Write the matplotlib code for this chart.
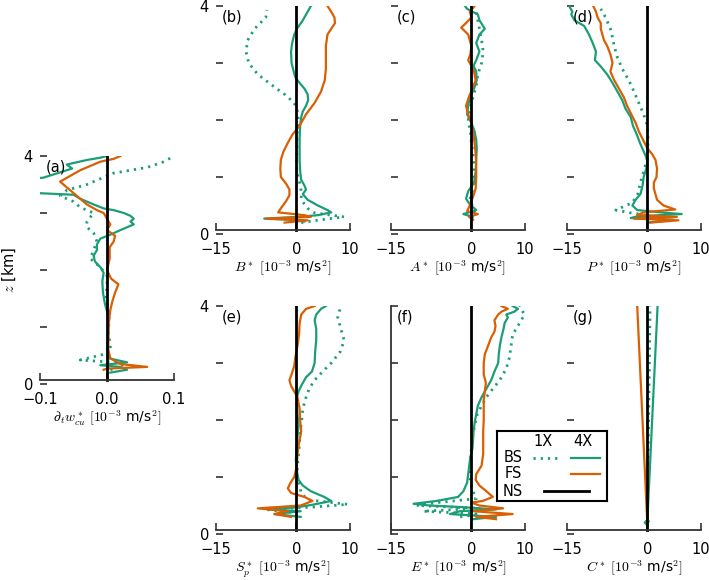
import numpy as np
import matplotlib
matplotlib.use('Agg')
import matplotlib.pyplot as plt

plt.rcParams['mathtext.fontset'] = 'cm'
plt.rcParams['font.family'] = 'DejaVu Sans'
plt.rcParams['font.size'] = 10

GREEN = '#1b9e77'
ORANGE = '#d95f02'
SPINE = '#333333'

# ---------------- data (z in km, values in 1e-3 m/s^2) ----------------
# (a) d_t w*_cu
z_a_bs4 = [0.2, 0.25, 0.3, 0.33, 0.38, 0.45, 0.6, 0.8, 1.0, 1.2, 1.4, 1.6, 1.8, 1.95, 2.05, 2.15, 2.25, 2.35,
           2.45, 2.55, 2.62, 2.7, 2.8, 2.85, 2.9, 2.95, 3.0, 3.05, 3.08, 3.15, 3.25, 3.32, 3.35, 3.4, 3.58,
           3.62, 3.78, 3.85, 3.93, 3.97, 4.0]
a_bs4 = [0.005, 0.03, 0.02, -0.01, 0.03, 0.003, 0.0, 0.002, 0.002, 0.002, -0.003, -0.006, -0.007, -0.005,
         -0.01, -0.018, -0.02, -0.015, -0.015, -0.01, 0.005, 0.02, 0.04, 0.035, 0.04, 0.035, 0.025, 0.01,
         -0.005, -0.02, -0.04, -0.05, -0.105, -0.13, -0.13, -0.095, -0.052, -0.06, -0.03, -0.01, 0.0]
z_a_fs4 = [0.25, 0.27, 0.3, 0.35, 0.45, 0.6, 0.9, 1.1, 1.3, 1.45, 1.6, 1.75, 1.85, 2.0, 2.2, 2.4, 2.5, 2.6,
           2.7, 2.8, 2.9, 3.0, 3.05, 3.15, 3.25, 3.35, 3.45, 3.55, 3.65, 3.75, 3.8, 3.9, 3.95, 4.0]
a_fs4 = [-0.005, 0.0, 0.06, 0.02, 0.005, 0.002, 0.002, 0.003, 0.005, 0.008, 0.012, 0.017, 0.006, 0.0,
         0.004, 0.004, 0.01, 0.012, 0.0, 0.005, 0.0, -0.005, -0.015, -0.03, -0.04, -0.05, -0.06, -0.07,
         -0.055, -0.04, -0.03, -0.01, 0.01, 0.02]
z_a_bs1 = [0.25, 0.3, 0.33, 0.38, 0.42, 0.55, 0.7, 0.9, 1.1, 1.3, 1.5, 1.7, 1.9, 2.05, 2.2, 2.35, 2.5, 2.65,
           2.75, 2.85, 3.0, 3.1, 3.2, 3.3, 3.4, 3.5, 3.6, 3.7, 3.8, 3.9, 4.0]
a_bs1 = [0.005, 0.02, 0.025, 0.01, -0.04, 0.005, 0.005, 0.002, 0.003, 0.003, -0.002, 0.0, 0.0, -0.01,
         -0.025, -0.02, -0.015, -0.02, -0.03, -0.03, -0.02, -0.04, -0.05, -0.07, -0.06, -0.03, -0.01,
         0.01, 0.06, 0.085, 0.1]

# (b) B*
z_b_bs4 = [0.22, 0.25, 0.27, 0.3, 0.33, 0.38, 0.42, 0.5, 0.6, 0.7, 0.78, 0.85, 0.95, 1.1, 1.3, 1.5, 1.7,
           1.9, 2.05, 2.15, 2.25, 2.35, 2.45, 2.55, 2.65, 2.75, 2.85, 3.0, 3.2, 3.35, 3.5, 3.6, 3.75, 3.9, 4.0]
b_bs4 = [1.5, -1, -6, 0.2, 4, 6.5, 5.8, 4.0, 2.1, 1.2, 1.8, 1.5, 0.9, 0.7, 0.6, 0.6, 0.6, 0.7, 0.9, 1.2,
         1.8, 2.2, 2.1, 1.5, 0.6, -0.2, -0.5, -0.9, -1.0, -0.8, -0.4, 0.1, 1.2, 2.1, 2.7]
z_b_fs4 = [0.2, 0.24, 0.27, 0.3, 0.33, 0.38, 0.45, 0.58, 0.68, 0.78, 0.88, 1.0, 1.15, 1.3, 1.45, 1.6, 1.75,
           1.9, 2.1, 2.3, 2.5, 2.7, 2.9, 3.1, 3.3, 3.5, 3.6, 3.7, 3.8, 3.9, 4.0]
b_fs4 = [-2.2, 2.1, -5.7, 2.7, 1.5, -3.4, -2.9, -1.9, -1.3, -1.3, -1.9, -2.9, -3.0, -2.9, -2.4, -1.6, -0.7,
         0.6, 1.8, 3.4, 4.6, 5.3, 5.5, 5.5, 5.5, 5.8, 6.5, 7.2, 7.1, 6.5, 5.8]
z_b_bs1 = [0.2, 0.25, 0.3, 0.37, 0.45, 0.6, 0.75, 0.9, 1.1, 1.3, 1.5, 1.7, 1.9, 2.1, 2.3, 2.45, 2.6, 2.8,
           3.0, 3.2, 3.4, 3.6, 3.8, 3.93]
b_bs1 = [0.9, 4.6, 8.9, 3.4, 2.1, 0.9, 0.9, 0.6, 0.1, 0.0, 0.1, 0.1, 0.2, 0.4, -0.4, -2.2, -4.4, -7.2,
         -8.9, -9.4, -9.1, -7.8, -5.7, -5.5]

# (c) A*
z_c_bs4 = [0.25, 0.3, 0.35, 0.42, 0.52, 0.62, 0.75, 0.9, 1.1, 1.3, 1.5, 1.65, 1.8, 1.95, 2.1, 2.25, 2.4,
           2.55, 2.7, 2.85, 2.95, 3.05, 3.2, 3.35, 3.5, 3.6, 3.75, 3.85, 3.95, 4.0]
c_bs4 = [0.0, 0.3, -1.5, 0.9, -0.3, -1.0, -0.6, 0.5, 0.8, 0.9, 1.0, 0.9, 0.6, 0.0, -0.8, -0.6, -0.3, 0.5,
         1.0, 0.9, 0.4, 0.9, 1.5, 0.9, 1.5, 2.5, 1.5, 1.2, -0.8, -1.2]
z_c_fs4 = [0.25, 0.3, 0.35, 0.4, 0.5, 0.65, 0.8, 1.0, 1.2, 1.4, 1.6, 1.8, 1.95, 2.1, 2.25, 2.42, 2.55, 2.7,
           2.85, 2.95, 3.05, 3.15, 3.3, 3.5, 3.62, 3.72, 3.8, 3.9, 4.0]
c_fs4 = [0.3, -0.4, 1.2, -0.8, -0.3, 0.3, 0.8, 0.9, 0.9, 0.8, 0.6, 0.3, 0.0, -0.6, -1.0, -0.4, 0.2, 0.8,
         0.5, 0.0, -0.6, -0.2, 0.0, -0.6, -1.9, -0.8, 0.0, -0.3, 0.6]
z_c_bs1 = [0.3, 0.4, 0.6, 0.8, 1.0, 1.2, 1.4, 1.6, 1.8, 2.0, 2.2, 2.4, 2.6, 2.8, 3.0, 3.2, 3.4, 3.6, 3.9]
c_bs1 = [-0.6, 0.6, -0.3, 0.3, 0.5, 0.5, 0.3, 0.0, -0.2, -0.6, -0.3, 0.3, 0.9, 1.2, 1.9, 2.2, 1.9, 1.5, 0.9]

# (d) P*
z_d_bs4 = [0.2, 0.25, 0.28, 0.31, 0.35, 0.38, 0.42, 0.5, 0.6, 0.7, 0.85, 1.0, 1.15, 1.3, 1.45, 1.6, 1.75,
           1.9, 2.05, 2.2, 2.35, 2.5, 2.65, 2.8, 2.95, 3.05, 3.2, 3.35, 3.5, 3.65, 3.75, 3.85, 3.9, 4.0]
d_bs4 = [0.0, 4.9, -3.1, -1.9, 6.4, 2.4, -1.9, -2.8, -2.2, -1.3, -0.9, -0.7, -0.2, 0.0, -0.7, -1.4, -2.0,
         -2.7, -3.1, -4.1, -4.7, -5.6, -6.5, -7.5, -8.8, -9.8, -9.6, -10.2, -10.9, -11.8, -13.6, -14.2,
         -14.0, -14.6]
z_d_fs4 = [0.2, 0.24, 0.27, 0.3, 0.33, 0.38, 0.43, 0.5, 0.6, 0.7, 0.8, 0.9, 1.0, 1.15, 1.3, 1.4, 1.5, 1.65,
           1.8, 1.95, 2.1, 2.25, 2.4, 2.55, 2.7, 2.85, 3.0, 3.15, 3.3, 3.4, 3.5, 3.6, 3.7, 3.8, 3.9, 4.0]
d_fs4 = [0.6, 5.8, -2.5, 5.5, -1.9, -0.7, 5.2, 3.0, 1.8, 1.5, 1.2, 1.2, 1.7, 1.8, 1.5, 0.9, 0.0, -0.8,
         -1.6, -2.2, -3.0, -3.8, -4.4, -5.3, -6.2, -6.9, -6.5, -6.9, -7.5, -8.1, -8.4, -8.7, -8.7, -9.3,
         -9.6, -10.1]
z_d_bs1 = [0.28, 0.32, 0.37, 0.42, 0.55, 0.7, 0.9, 1.1, 1.3, 1.5, 1.7, 1.9, 2.1, 2.3, 2.5, 2.7, 2.9, 3.1,
           3.3, 3.45, 3.6, 3.8, 3.95]
d_bs1 = [-2.5, 0.6, -3.1, -5.9, -2.8, -1.8, -1.3, -0.7, -0.1, 0.1, 0.1, 0.0, -0.7, -1.6, -2.5, -3.5, -4.7,
         -5.6, -6.2, -6.5, -6.9, -7.8, -8.7]

# (e) S_p*
z_e_bs4 = [0.3, 0.35, 0.4, 0.43, 0.47, 0.52, 0.58, 0.65, 0.75, 0.85, 0.95, 1.1, 1.3, 1.5, 1.7, 1.9, 2.1,
           2.3, 2.4, 2.5, 2.6, 2.75, 2.85, 3.0, 3.2, 3.4, 3.6, 3.75, 3.85, 3.95, 4.0]
e_bs4 = [0.8, -4.1, 0.8, -5.3, 0.2, 3.4, 6.5, 5.2, 2.7, 1.2, 0.4, 0.1, -0.1, 0.0, 0.2, 0.4, 0.2, 0.1, 0.1,
         0.4, 0.9, 1.8, 2.9, 3.4, 3.5, 3.7, 3.7, 3.4, 3.7, 4.6, 5.5]
z_e_fs4 = [0.3, 0.35, 0.4, 0.45, 0.5, 0.58, 0.65, 0.72, 0.8, 0.9, 1.0, 1.2, 1.4, 1.6, 1.8, 2.0, 2.2, 2.4,
           2.5, 2.6, 2.7, 2.8, 2.95, 3.1, 3.3, 3.5, 3.7, 3.85, 3.95, 4.0]
e_fs4 = [-1.0, -4.1, -1.6, -7.2, 0.8, 3.0, 1.5, -1.0, -1.6, -1.1, -0.4, 0.1, 0.2, 0.5, 0.9, 0.7, 0.6, 0.2,
         -0.4, -1.0, -1.3, -0.9, -0.4, -0.2, 0.2, 0.5, 0.6, 0.9, 1.8, 3.4]
z_e_bs1 = [0.38, 0.43, 0.47, 0.52, 0.6, 0.72, 0.85, 1.0, 1.2, 1.4, 1.6, 1.8, 2.0, 2.2, 2.4, 2.55, 2.7,
           2.85, 3.0, 3.2, 3.4, 3.6, 3.8, 4.0]
e_bs1 = [-1.0, -5.7, 2.7, 9.6, 2.1, 0.9, 0.6, 0.1, 0.2, 0.4, 0.6, 0.7, 1.0, 1.2, 1.8, 2.4, 3.4, 4.9, 6.5,
         8.2, 8.9, 8.3, 7.7, 8.3]

# (f) E*
z_f_bs4 = [0.26, 0.3, 0.35, 0.4, 0.43, 0.47, 0.5, 0.53, 0.58, 0.65, 0.75, 0.9, 1.05, 1.2, 1.35, 1.5, 1.65,
           1.8, 1.95, 2.1, 2.25, 2.4, 2.55, 2.7, 2.85, 3.0, 3.15, 3.3, 3.45, 3.6, 3.7, 3.8, 3.85, 3.9, 3.95, 4.0]
f_bs4 = [0.3, 4.6, -4.0, -2.1, 4.6, -1.5, -7.8, -10.8, -6.5, -2.5, -1.5, -0.8, -0.6, -0.4, -0.2, 0.2, 0.3,
         0.4, 0.6, 0.9, 1.2, 1.9, 2.8, 3.7, 4.3, 5.0, 5.1, 5.3, 5.6, 6.0, 6.2, 6.8, 6.5, 8.0, 8.7, 7.7]
z_f_fs4 = [0.26, 0.3, 0.35, 0.4, 0.45, 0.5, 0.55, 0.58, 0.65, 0.75, 0.85, 0.95, 1.05, 1.2, 1.4, 1.6, 1.8,
           2.0, 2.2, 2.35, 2.5, 2.65, 2.8, 3.0, 3.15, 3.3, 3.45, 3.55, 3.65, 3.75, 3.85, 3.9, 3.95, 4.0]
f_fs4 = [4.6, 0.9, 7.7, 0.3, 5.9, 1.5, 0.0, 2.1, 4.0, 2.8, 1.5, 0.8, 0.9, 1.9, 2.2, 2.2, 2.2, 2.3, 2.3,
         2.3, 2.5, 2.7, 2.3, 2.3, 2.5, 3.1, 3.7, 4.3, 4.5, 4.3, 5.0, 5.6, 6.8, 5.6]
z_f_bs1 = [0.3, 0.35, 0.4, 0.45, 0.5, 0.55, 0.62, 0.75, 0.9, 1.1, 1.3, 1.5, 1.7, 1.9, 2.1, 2.25, 2.4, 2.55,
           2.7, 2.9, 3.1, 3.3, 3.5, 3.7, 3.85, 4.0]
f_bs1 = [-2.1, 1.5, -9.0, 1.5, -10.2, -6.5, 0.9, 0.3, -0.2, -0.3, -0.2, 0.0, 0.2, 0.6, 1.1, 1.9, 2.8, 4.0,
         5.3, 6.5, 7.1, 7.4, 7.7, 9.0, 9.9, 9.0]

# (g) C*
z_g_bs4 = [0.15, 0.2, 0.25, 4.0]
g_bs4 = [0.0, -0.5, 0.0, 1.9]
z_g_fs4 = [0.15, 4.0]
g_fs4 = [0.0, -1.9]
z_g_bs1 = [0.2, 0.25, 4.0]
g_bs1 = [0.3, 0.0, 0.5]

# NS (no shear) reference
z_ns = [0.07, 4.0]
x_ns = [0.0, 0.0]

panel_letters = ['a', 'b', 'c', 'd', 'e', 'f', 'g']
xlabels = [r'$\partial_t w^*_{cu}\ [10^{-3}$ m/s$^2]$',
           r'$B^*\ [10^{-3}$ m/s$^2]$',
           r'$A^*\ [10^{-3}$ m/s$^2]$',
           r'$P^*\ [10^{-3}$ m/s$^2]$',
           r'$S^*_p\ [10^{-3}$ m/s$^2]$',
           r'$E^*\ [10^{-3}$ m/s$^2]$',
           r'$C^*\ [10^{-3}$ m/s$^2]$']
xticks_small = [-0.1, 0.0, 0.1]
xticklabels_small = ['\u22120.1', '0.0', '0.1']
xticks_big = [-15, 0, 10]
xticklabels_big = ['\u221215', '0', '10']
yticks = [0, 1, 2, 3, 4]

series = {
    'a': ((z_a_bs1, a_bs1), (z_a_bs4, a_bs4), (z_a_fs4, a_fs4)),
    'b': ((z_b_bs1, b_bs1), (z_b_bs4, b_bs4), (z_b_fs4, b_fs4)),
    'c': ((z_c_bs1, c_bs1), (z_c_bs4, c_bs4), (z_c_fs4, c_fs4)),
    'd': ((z_d_bs1, d_bs1), (z_d_bs4, d_bs4), (z_d_fs4, d_fs4)),
    'e': ((z_e_bs1, e_bs1), (z_e_bs4, e_bs4), (z_e_fs4, e_fs4)),
    'f': ((z_f_bs1, f_bs1), (z_f_bs4, f_bs4), (z_f_fs4, f_fs4)),
    'g': ((z_g_bs1, g_bs1), (z_g_bs4, g_bs4), (z_g_fs4, g_fs4)),
}

# ---------------- layout ----------------
W, H = 709, 580
fig = plt.figure(figsize=(W / 100, H / 100), dpi=100)

# left edge x, top y (pixels)
pos = {'a': (40, 156), 'b': (216, 6), 'c': (391, 6), 'd': (567, 6),
       'e': (216, 306), 'f': (391, 306), 'g': (567, 306)}
AW, AH = 134, 228

DOT = (0, (0.8, 1.8))
FS = 10

for i, p in enumerate(panel_letters):
    x0, yt = pos[p]
    ax = fig.add_axes([x0 / W, 1 - (yt + AH) / H, AW / W, AH / H])
    (zb1, vb1), (zb4, vb4), (zf4, vf4) = series[p]
    ax.plot(vb1, zb1, color=GREEN, lw=2.0, linestyle=DOT)
    ax.plot(vb4, zb4, color=GREEN, lw=1.6)
    ax.plot(vf4, zf4, color=ORANGE, lw=1.6)
    ax.plot(x_ns, z_ns, color='black', lw=2.0)

    if p == 'a':
        ax.set_xlim(-0.1, 0.1)
        ax.set_xticks(xticks_small)
        ax.set_xticklabels(xticklabels_small)
    else:
        ax.set_xlim(-15, 10)
        ax.set_xticks(xticks_big)
        ax.set_xticklabels(xticklabels_big)
    ax.set_ylim(0, 4)
    ax.set_yticks(yticks)
    if p in ('a', 'b', 'e'):
        ax.set_yticklabels(['0', '', '', '', '4'])
    else:
        ax.set_yticklabels([''] * 5)

    for s in ('top', 'right'):
        ax.spines[s].set_visible(False)
    ax.spines['left'].set_visible(p == 'f')
    ax.spines['left'].set_color(SPINE)
    ax.spines['left'].set_linewidth(1.3)
    ax.spines['bottom'].set_position(('data', 0.07))
    ax.spines['bottom'].set_color(SPINE)
    ax.spines['bottom'].set_linewidth(1.3)
    ax.tick_params(axis='both', direction='in', length=5, width=1.2, color=SPINE, labelsize=FS + 0.5)
    ax.tick_params(axis='x', pad=8.5)
    ax.tick_params(axis='y', pad=5)
    ax.set_xlabel(xlabels[i], fontsize=FS, labelpad=1.5)
    ax.patch.set_alpha(0)
    ax.text(0.045, 0.95, '(%s)' % p, transform=ax.transAxes, ha='left', va='center', fontsize=FS + 0.5)
    if p == 'a':
        ax.set_ylabel(r'$z$ [km]', fontsize=FS + 0.5, labelpad=4)

# ---------------- custom legend ----------------
lx, ly, lw_, lh = 497, 431, 110, 70
lax = fig.add_axes([lx / W, 1 - (ly + lh) / H, lw_ / W, lh / H], zorder=10)
lax.set_xlim(0, lw_)
lax.set_ylim(lh, 0)
lax.set_xticks([])
lax.set_yticks([])
for s in lax.spines.values():
    s.set_color('black')
    s.set_linewidth(1.5)
lax.text(46, 11, '1X', ha='center', va='center', fontsize=FS + 0.5)
lax.text(86, 11, '4X', ha='center', va='center', fontsize=FS + 0.5)
lax.text(16, 27, 'BS', ha='center', va='center', fontsize=FS + 0.5)
lax.text(16, 43, 'FS', ha='center', va='center', fontsize=FS + 0.5)
lax.text(16, 60, 'NS', ha='center', va='center', fontsize=FS + 0.5)
lax.plot([36, 60], [27, 27], color=GREEN, lw=2.0, linestyle=DOT)
lax.plot([74, 103], [27, 27], color=GREEN, lw=1.6)
lax.plot([74, 103], [43, 43], color=ORANGE, lw=1.6)
lax.plot([47, 92], [60, 60], color='black', lw=2.0)

fig.savefig('out.png', dpi=100)
